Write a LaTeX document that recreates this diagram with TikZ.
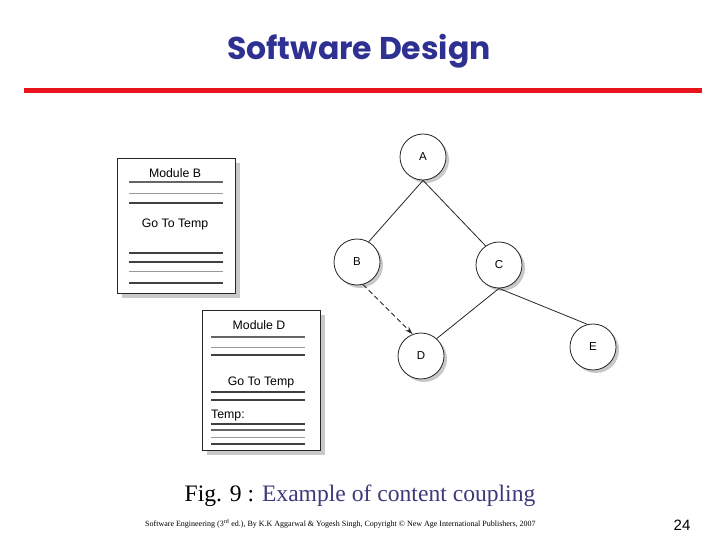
\documentclass[tikz,border=0pt]{standalone}
\usepackage{fontspec}
\setmainfont{Liberation Serif}
\setsansfont{Liberation Sans}
\newfontfamily\titlefont{Poppins}
\usetikzlibrary{arrows.meta}
\definecolor{titleblue}{HTML}{2E3192}
\definecolor{capblue}{HTML}{3A3A7C}
\definecolor{barred}{HTML}{E8141B}
\definecolor{shade}{HTML}{C9C9C9}
\tikzset{
  sheet/.style={draw=black!85, line width=0.9pt, fill=white},
  sheetshadow/.style={fill=shade, draw=none},
  dline/.style={draw=black!75, line width=1.1pt},
  lline/.style={draw=black!40, line width=0.8pt},
  mtext/.style={font=\sffamily\fontsize{12.3}{14}\selectfont, inner sep=0pt},
  circ/.style={circle, draw=black!85, line width=0.8pt, fill=white, minimum size=46pt, inner sep=0pt, font=\sffamily\fontsize{11.5}{13}\selectfont},
  circshadow/.style={circle, fill=shade, minimum size=46pt, inner sep=0pt},
  edge/.style={draw=black!85, line width=0.8pt},
}
\begin{document}
\begin{tikzpicture}[x=1pt,y=-1pt]
\useasboundingbox (0,0) rectangle (720,540);
% title
\node[font=\titlefont\bfseries\fontsize{31.5}{36}\selectfont, text=titleblue, anchor=base] (title) at (359,60) {Software Design};
\fill[barred] (24,88) rectangle (702,93);

% Module B sheet
\fill[sheetshadow] (122,163) rectangle (240,298);
\draw[sheet] (117,158) rectangle (235,293);
\node[mtext] (mb) at (175,173) {Module B};
\draw[dline,draw=black!60] (129,182) -- (223,182);
\draw[lline] (129,193) -- (223,193);
\draw[dline] (129,203) -- (223,203);
\node[mtext] (gb) at (175,224) {Go To Temp};
\draw[dline] (129,253) -- (223,253);
\draw[dline] (129,262) -- (223,262);
\draw[lline] (129,271) -- (223,271);
\draw[dline] (129,283) -- (223,283);

% Module D sheet
\fill[sheetshadow] (207,315) rectangle (325,455);
\draw[sheet] (202,310) rectangle (320,450);
\node[mtext] (md) at (259,325) {Module D};
\draw[dline,draw=black!60] (211,337) -- (305,337);
\draw[lline] (211,347) -- (305,347);
\draw[dline] (211,355) -- (305,355);
\node[mtext] (gd) at (261,382) {Go To Temp};
\draw[dline] (211,392) -- (305,392);
\draw[dline] (211,400) -- (305,400);
\node[mtext, anchor=west] (td) at (211,416) {Temp:};
\draw[dline] (211,424) -- (305,424);
\draw[dline,draw=black!60] (211,430) -- (305,430);
\draw[lline] (211,437) -- (305,437);
\draw[dline] (211,444) -- (305,444);

% circle shadows
\foreach \p in {(426,160),(360,265),(502,268),(424,359),(596,350)}
  \node[circshadow] at \p {};
% circles
\node[circ] (A) at (423,157) {A};
\node[circ] (B) at (357,262) {B};
\node[circ] (C) at (499,265) {C};
\node[circ] (D) at (421,356) {D};
\node[circ] (E) at (593,347) {E};

\draw[edge] (A.south) -- (B.60);
\draw[edge] (A.south) -- (C.125);
\draw[edge] (C.south) -- (D.48);
\draw[edge] (C.south) -- (E.104);
\draw[edge, dashed, dash pattern=on 5pt off 3pt, -{Stealth[length=8pt,width=5pt]}] (B.-75) -- (D.111);

% caption
\node[anchor=base, font=\fontsize{23.6}{26}\selectfont, inner sep=0pt] (cap) at (360,501) {Fig. 9 : \textcolor{capblue}{Example of content coupling}};
\node[anchor=base west, font=\fontsize{8}{9}\selectfont, inner sep=0pt] (foot) at (145,526) {Software Engineering (3\textsuperscript{rd} ed.), By K.K Aggarwal \& Yogesh Singh, Copyright \textcopyright{} New Age International Publishers, 2007};
\node[anchor=base, font=\sffamily\fontsize{15}{17}\selectfont, inner sep=0pt] (pg) at (682,530) {24};
\end{tikzpicture}
\end{document}
